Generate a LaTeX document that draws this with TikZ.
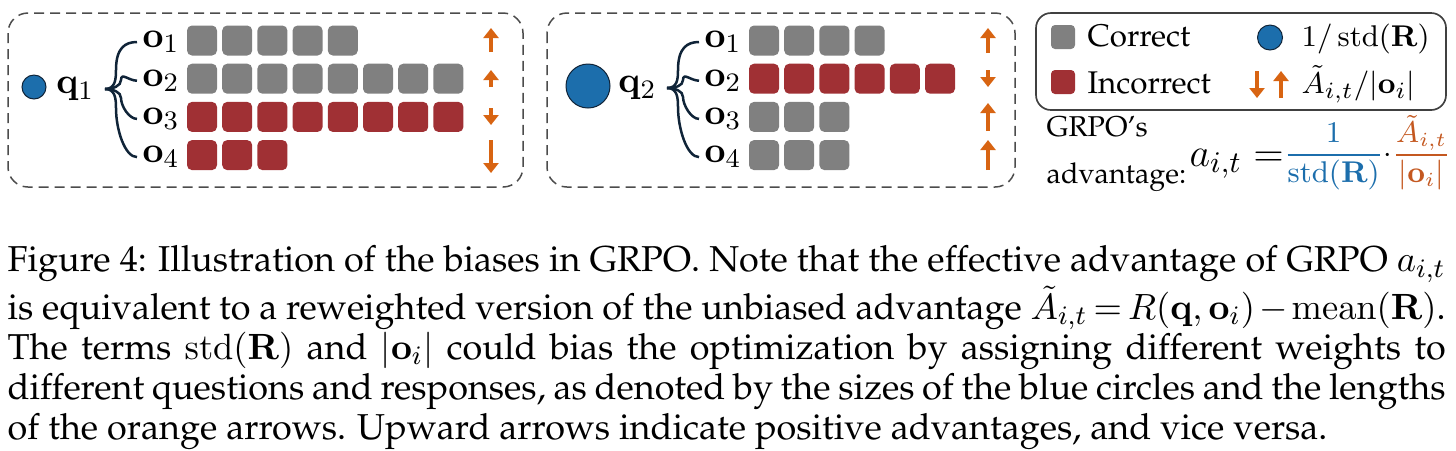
\documentclass[tikz,border=0pt]{standalone}
\usepackage[T1,TU]{fontenc}
\usepackage{xcolor}
\usepackage{tikz}
\usetikzlibrary{arrows.meta,positioning}

\definecolor{cellgray}{RGB}{128,128,128}
\definecolor{cellred}{RGB}{160,48,52}
\definecolor{stdblue}{RGB}{28,110,172}
\definecolor{advorange}{RGB}{216,100,18}
\definecolor{advtext}{RGB}{196,88,32}
\definecolor{bracenavy}{RGB}{16,36,56}
\newcommand{\palfont}{\fontencoding{T1}\fontfamily{ppl}\selectfont}

\begin{document}
\begin{tikzpicture}[
    x=0.3pt, y=-0.3pt,
    groupbox/.style={draw=black!70, dash pattern=on 3pt off 1.8pt, line width=0.45pt, rounded corners=6pt},
    keybox/.style={draw=black!75, line width=0.5pt, rounded corners=4.5pt},
    cell/.style={minimum size=9pt, inner sep=0pt, rounded corners=1.5pt},
    qdot/.style={circle, draw=bracenavy, line width=0.3pt, fill=stdblue, inner sep=0pt},
    qlabel/.style={anchor=east, inner xsep=3pt, inner ysep=0pt, font=\fontsize{11}{13}\selectfont},
    olabel/.style={anchor=west, inner xsep=1.5pt, inner ysep=0pt, font=\fontsize{11}{13}\selectfont},
    branch/.style={draw=bracenavy, line width=0.75pt},
    adv/.style={draw=advorange, line width=1.2pt, -{Triangle[width=4.5pt,length=3pt]}},
    keytext/.style={inner sep=0pt, font=\palfont\fontsize{9.4}{11}\selectfont},
    keymath/.style={inner sep=0pt, font=\fontsize{9.4}{11}\selectfont},
    notetext/.style={inner sep=0pt, anchor=base west, font=\palfont\fontsize{8.6}{10}\selectfont}
  ]
    \useasboundingbox (0,0) rectangle (1456,450);

    \draw[groupbox] (8,13) rectangle (523,187);
    \node[qdot, minimum size=7.2pt] (dot-a) at (34,87) {};
    \node[qlabel] (q-a) at (105,89) {$\mathbf{q}_1$};
    \node[olabel] (o-a-1) at (137,42) {$\mathbf{o}_1$};
    \node[olabel] (o-a-2) at (137,80.7) {$\mathbf{o}_2$};
    \node[olabel] (o-a-3) at (137,118.9) {$\mathbf{o}_3$};
    \node[olabel] (o-a-4) at (137,157.1) {$\mathbf{o}_4$};
    \draw[branch] (q-a.east) .. controls +(10,0) and +(0,10) .. (116,70) .. controls +(0,-22) and +(-12,0) .. (o-a-1.west);
    \draw[branch] (q-a.east) .. controls +(8,0) and +(0,6) .. (121,80) .. controls +(0,-8) and +(-8,0) .. (o-a-2.west);
    \draw[branch] (q-a.east) .. controls +(8,0) and +(0,-6) .. (121,98) .. controls +(0,8) and +(-8,0) .. (o-a-3.west);
    \draw[branch] (q-a.east) .. controls +(10,0) and +(0,-10) .. (116,108) .. controls +(0,22) and +(-12,0) .. (o-a-4.west);
    \foreach \n/\clr [count=\r] in {5/cellgray,8/cellgray,8/cellred,3/cellred}
      \foreach \k in {1,...,\n}
        \node[cell, fill=\clr] (cell-a-\r-\k) at ({202+35.2*(\k-1)}, {40.5+38.2*(\r-1)}) {};
    \draw[adv] (491,52) -- (491,28);
    \draw[adv] (491,87) -- (491,70);
    \draw[adv] (491,108) -- (491,125);
    \draw[adv] (491,140) -- (491,173);

    \draw[groupbox] (547,13) rectangle (1015,187);
    \node[qdot, minimum size=13.2pt] (dot-b) at (588,86) {};
    \node[qlabel] (q-b) at (667,88) {$\mathbf{q}_2$};
    \node[olabel] (o-b-1) at (699,42) {$\mathbf{o}_1$};
    \node[olabel] (o-b-2) at (699,80.7) {$\mathbf{o}_2$};
    \node[olabel] (o-b-3) at (699,118.9) {$\mathbf{o}_3$};
    \node[olabel] (o-b-4) at (699,157.1) {$\mathbf{o}_4$};
    \draw[branch] (q-b.east) .. controls +(10,0) and +(0,10) .. (678,70) .. controls +(0,-22) and +(-12,0) .. (o-b-1.west);
    \draw[branch] (q-b.east) .. controls +(8,0) and +(0,6) .. (683,80) .. controls +(0,-8) and +(-8,0) .. (o-b-2.west);
    \draw[branch] (q-b.east) .. controls +(8,0) and +(0,-6) .. (683,97) .. controls +(0,8) and +(-8,0) .. (o-b-3.west);
    \draw[branch] (q-b.east) .. controls +(10,0) and +(0,-10) .. (678,107) .. controls +(0,22) and +(-12,0) .. (o-b-4.west);
    \foreach \n/\clr [count=\r] in {4/cellgray,6/cellred,3/cellgray,3/cellgray}
      \foreach \k in {1,...,\n}
        \node[cell, fill=\clr] (cell-b-\r-\k) at ({764+35.2*(\k-1)}, {40.5+38.2*(\r-1)}) {};
    \draw[adv] (988,53) -- (988,28);
    \draw[adv] (988,70) -- (988,87);
    \draw[adv] (988,131) -- (988,103);
    \draw[adv] (988,170) -- (988,140);

    \draw[keybox] (1036,13) rectangle (1446,110);
    \node[cell, fill=cellgray, minimum size=7.2pt, rounded corners=1.2pt] (key-correct) at (1063,37) {};
    \node[cell, fill=cellred, minimum size=7.2pt, rounded corners=1.2pt] (key-wrong) at (1063,82) {};
    \node[keytext, anchor=base west] (txt-correct) at (1087,46) {Correct};
    \node[keytext, anchor=base west] (txt-wrong) at (1087,93) {Incorrect};
    \node[qdot, minimum size=7.5pt] (key-dot) at (1270,37.5) {};
    \draw[adv] (1257,71) -- (1257,98);
    \draw[adv] (1281,98) -- (1281,71);
    \node[keymath, anchor=base west] (txt-std) at (1301,46) {$1/\,\mathrm{std}(\mathbf{R})$};
    \node[keymath, anchor=base west] (txt-adv) at (1301,93) {$\tilde{A}_{i,t}/|\mathbf{o}_i|$};

    \node[notetext] (note-1) at (1046,136) {GRPO's};
    \node[notetext] (note-2) at (1046,183) {advantage:};
    \node[inner sep=0pt, anchor=base west] (formula) at (1189,166) {\fontsize{13}{15}\selectfont$a_{i,t} =$\raisebox{1.1pt}{\fontsize{8.6}{10}\selectfont$\displaystyle\textcolor{stdblue}{\frac{1}{\mathrm{std}(\mathbf{R})}}{\cdot}\textcolor{advtext}{\frac{\tilde{A}_{i,t}}{|\mathbf{o}_i|}}$}};

    \node[anchor=north west, inner sep=0pt, text width=431.4pt, align=justify, font=\palfont\fontsize{10.8}{12}\selectfont] (caption) at (7,245) {\tolerance=10000\relax\hyphenpenalty=10000\relax
      \thickmuskip=3mu plus 2mu\relax\medmuskip=2mu plus 1mu\relax
      Figure 4: Illustration of the biases in GRPO. Note that the effective advantage of GRPO $a_{i,t}$\linebreak
      is equivalent to a reweighted version of the unbiased advantage $\tilde{A}_{i,t} = R(\mathbf{q}, \mathbf{o}_i) - \mathrm{mean}(\mathbf{R})$.\linebreak
      The terms $\mathrm{std}(\mathbf{R})$ and $|\mathbf{o}_i|$ could bias the optimization by assigning different weights to\linebreak
      different questions and responses, as denoted by the sizes of the blue circles and the lengths\linebreak
      of the orange arrows. Upward arrows indicate positive advantages, and vice versa.};
  \end{tikzpicture}
\end{document}
